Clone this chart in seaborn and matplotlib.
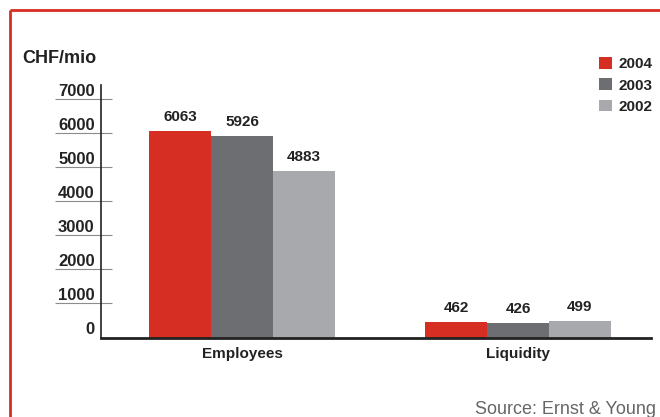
import matplotlib
matplotlib.use("Agg")
import matplotlib.pyplot as plt
import matplotlib.transforms as mtransforms
from matplotlib.lines import Line2D
import seaborn as sns
import pandas as pd

categories = ["Employees", "Liquidity"]
years = ["2004", "2003", "2002"]
values_2004 = [6063, 462]
values_2003 = [5926, 426]
values_2002 = [4883, 499]
yticks = [0, 1000, 2000, 3000, 4000, 5000, 6000, 7000]
colors = ["#D62E22", "#6D6E71", "#A7A9AC"]

rows = []
for yr, vals in zip(years, [values_2004, values_2003, values_2002]):
    for cat, v in zip(categories, vals):
        rows.append({"category": cat, "year": yr, "value": v})
df = pd.DataFrame(rows)

sns.set_style("white")
plt.rcParams["font.family"] = ["Liberation Sans", "DejaVu Sans"]
TXT = "#222222"

fig = plt.figure(figsize=(6.6, 4.17), dpi=100)
ax = fig.add_axes([101/660, 79.5/417, 550/660, 252.5/417])

sns.barplot(data=df, x="category", y="value", hue="year", hue_order=years,
            order=categories, palette=colors, width=0.674, saturation=1,
            edgecolor="none", linewidth=0, ax=ax, errorbar=None)

ax.set_xlim(-0.511, 1.482)
ax.set_ylim(0, 7420)
ax.set_xlabel("")
ax.set_ylabel("")

for c in ax.containers:
    ax.bar_label(c, fmt="%d", padding=5, fontsize=11, fontweight="bold", color=TXT)

ax.set_yticks(yticks)
ax.set_yticklabels([str(v) for v in yticks], fontsize=12, fontweight="bold", color=TXT)
for lab in ax.get_yticklabels():
    lab.set_verticalalignment("bottom")
ax.tick_params(axis="y", length=0, pad=4.5)
ax.tick_params(axis="x", length=0, pad=7)
for lab in ax.get_xticklabels():
    lab.set_fontsize(11)
    lab.set_fontweight("bold")
    lab.set_color(TXT)

trans = mtransforms.blended_transform_factory(ax.transAxes, ax.transData)
ax.hlines(yticks[1:], -0.0836, 0.02, transform=trans, colors="#8c8c8c",
          linewidth=0.8, clip_on=False)

for s in ["top", "right"]:
    ax.spines[s].set_visible(False)
ax.spines["left"].set_color("#222222")
ax.spines["left"].set_linewidth(1.2)
ax.spines["bottom"].set_color("#222222")
ax.spines["bottom"].set_linewidth(2.0)

leg = ax.legend(loc="upper left", bbox_to_anchor=(599/660, 1 - 57/417),
                bbox_transform=fig.transFigure, frameon=False, fontsize=11,
                handlelength=0.82, handleheight=0.82, handletextpad=0.45,
                labelspacing=0.46, borderpad=0, borderaxespad=0)
for t in leg.get_texts():
    t.set_fontweight("bold")
    t.set_color(TXT)

fig.text(22/660, 1 - 63/417, "CHF/mio", fontsize=13, fontweight="bold",
         color=TXT, va="baseline", ha="left")
fig.text(475/660, 1 - 414/417, "Source: Ernst & Young", fontsize=13,
         color="#666666", va="baseline", ha="left")

red = "#D62E22"
fig.add_artist(Line2D([10.5/660, 10.5/660], [0, 1 - 9.7/417], transform=fig.transFigure,
                      color=red, linewidth=2.0, solid_capstyle="butt"))
fig.add_artist(Line2D([9.5/660, 1], [1 - 9.7/417, 1 - 9.7/417], transform=fig.transFigure,
                      color=red, linewidth=2.0, solid_capstyle="butt"))

fig.savefig("out.png", dpi=100)
